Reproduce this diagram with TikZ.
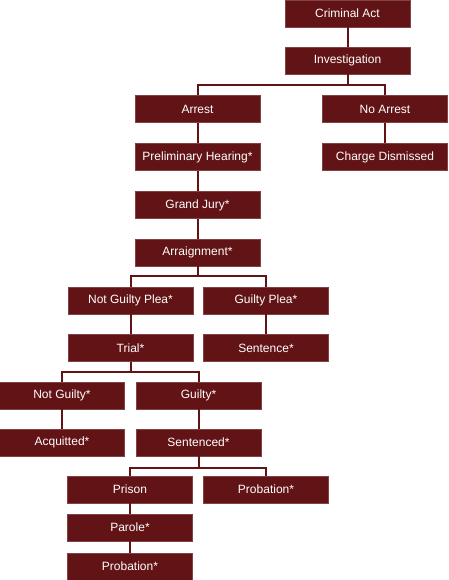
\documentclass[tikz,border=0pt]{standalone}
\usepackage{fontspec}
\setmainfont{Liberation Sans}
\definecolor{maroon}{HTML}{621315}
\begin{document}
\begin{tikzpicture}[x=1pt,y=-1pt,
  box/.style={fill=maroon,draw=maroon!80!white,line width=0.6pt,minimum width=125pt,minimum height=27pt,inner sep=0pt,text=white,font=\fontsize{12}{14}\selectfont},
  link/.style={draw=maroon,line width=2pt}]
\useasboundingbox (0,0) rectangle (448,580);
\node[box] (crim) at (347.5,13.5) {Criminal Act};
\node[box] (inv) at (347.5,60.5) {Investigation};
\node[box] (arrest) at (197.5,109) {Arrest};
\node[box] (noarr) at (385,109) {No Arrest};
\node[box] (prelim) at (197.5,157) {Preliminary Hearing*};
\node[box] (dism) at (385,157) {Charge Dismissed};
\node[box] (gj) at (197.5,205) {Grand Jury*};
\node[box] (arr) at (197.5,252.5) {Arraignment*};
\node[box] (ngp) at (130.5,300.5) {Not Guilty Plea*};
\node[box] (gp) at (266,300.5) {Guilty Plea*};
\node[box] (trial) at (130.5,348) {Trial*};
\node[box] (sent1) at (266,348) {Sentence*};
\node[box] (ng) at (62,395.5) {Not Guilty*};
\node[box] (guilty) at (198.5,395.5) {Guilty*};
\node[box] (acq) at (62,442.5) {Acquitted*};
\node[box] (sent2) at (198.5,442.5) {Sentenced*};
\node[box] (prison) at (130,489.5) {Prison};
\node[box] (prob1) at (266,489.5) {Probation*};
\node[box] (parole) at (130,527.5) {Parole*};
\node[box] (prob2) at (130,566.5) {Probation*};
\draw[link] (crim.south) -- (inv.north);
\draw[link] (inv.south) -- ++(0,11) -| (arrest.north);
\draw[link] (inv.south) -- ++(0,11) -| (noarr.north);
\draw[link] (arrest.south) -- (prelim.north);
\draw[link] (noarr.south) -- (dism.north);
\draw[link] (prelim.south) -- (gj.north);
\draw[link] (gj.south) -- (arr.north);
\draw[link] (arr.south) -- ++(0,10) -| (ngp.north);
\draw[link] (arr.south) -- ++(0,10) -| (gp.north);
\draw[link] (ngp.south) -- (trial.north);
\draw[link] (gp.south) -- (sent1.north);
\draw[link] (trial.south) -- ++(0,10.5) -| (ng.north);
\draw[link] (trial.south) -- ++(0,10.5) -| (guilty.north);
\draw[link] (ng.south) -- (acq.north);
\draw[link] (guilty.south) -- (sent2.north);
\draw[link] (sent2.south) -- ++(0,12) -| (prison.north);
\draw[link] (sent2.south) -- ++(0,12) -| (prob1.north);
\draw[link] (prison.south) -- (parole.north);
\draw[link] (parole.south) -- (prob2.north);
\end{tikzpicture}
\end{document}
